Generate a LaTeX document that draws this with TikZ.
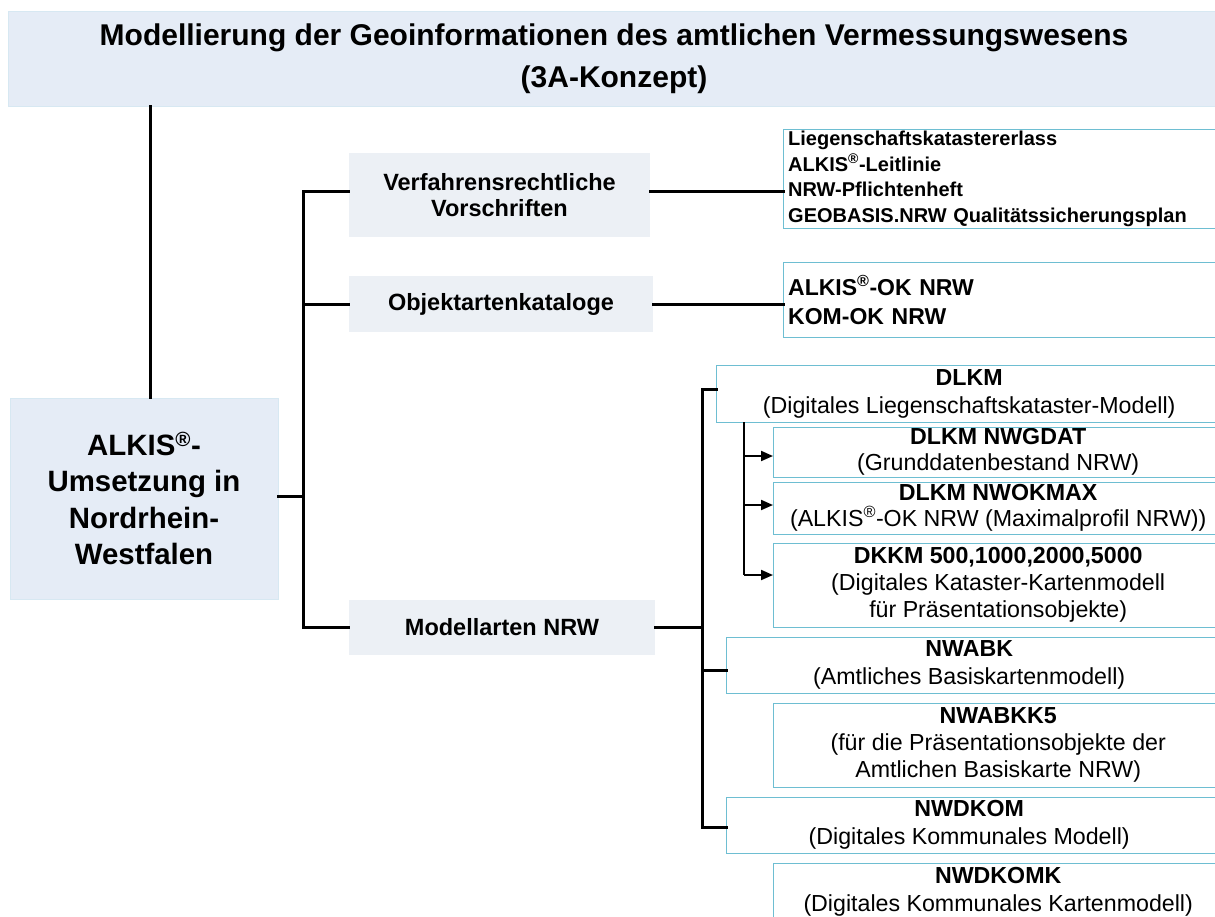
\documentclass[tikz,border=0pt]{standalone}
\usepackage{fontspec}
\setmainfont{Liberation Sans}
\usetikzlibrary{arrows.meta}
\definecolor{titlefill}{RGB}{229,236,246}
\definecolor{midfill}{RGB}{236,240,245}
\definecolor{cyanline}{RGB}{110,190,210}
\definecolor{faintline}{RGB}{215,232,242}
\tikzset{
  px/.style={x=1pt,y=-1pt},
  titlebox/.style={fill=titlefill,inner sep=0pt,align=center,
     font=\fontsize{30}{42}\selectfont\bfseries},
  leftbox/.style={draw=faintline,fill=titlefill,line width=1pt,inner sep=0pt,align=center,
     font=\fontsize{29.4}{36.3}\selectfont\bfseries},
  midbox/.style={fill=midfill,inner sep=0pt,align=center,
     font=\fontsize{23.5}{25.5}\selectfont\bfseries},
  rbox/.style={fill=white,inner sep=0pt,align=center,
     font=\fontsize{23.2}{28}\selectfont},
  listbox/.style={fill=white,inner xsep=5pt,inner ysep=0pt,align=left},
  openborder/.style={draw=cyanline,line width=1pt},
  conn/.style={line width=3pt,line cap=rect},
  thinconn/.style={line width=2pt},
  arr/.style={line width=2pt,-{Triangle[length=12pt,width=10pt]}},
}
\newcommand{\reg}{\textsuperscript{\textregistered}}
\begin{document}
\begin{tikzpicture}[px]
\useasboundingbox (0,0) rectangle (1215,916);
% title
\node[titlebox,minimum width=1210pt,minimum height=94pt] (title) at (614,59)
  {Modellierung der Geoinformationen des amtlichen Vermessungswesens\\(3A-Konzept)};
\draw[draw=faintline,line width=1pt] ([xshift=20pt]title.north east) -- (title.north west)
  -- (title.south west) -- ([xshift=20pt]title.south east);
% left box
\node[leftbox,minimum width=268pt,minimum height=201pt] (alkis) at (144,498.5)
  {ALKIS\reg-\\Umsetzung in\\Nordrhein-\\Westfalen};
% middle boxes
\node[midbox,minimum width=301pt,minimum height=84pt] (verf) at (499.5,195)
  {Verfahrensrechtliche\\Vorschriften};
\node[midbox,minimum width=304pt,minimum height=56pt] (objk) at (501,304) {Objektartenkataloge};
\node[midbox,minimum width=306pt,minimum height=55pt] (mod) at (502,627.5) {Modellarten NRW};
% right list boxes
\node[listbox,font=\fontsize{20}{25.6}\selectfont\bfseries,anchor=north west,
  minimum width=430pt,minimum height=99pt,text width=420pt] (vorschr) at (783,129)
  {Liegenschaftskatastererlass\\ALKIS\reg-Leitlinie\\NRW-Pflichtenheft\\GEOBASIS.NRW Qualitätssicherungsplan};
\node[listbox,font=\fontsize{23}{29}\selectfont\bfseries,anchor=north west,
  minimum width=430pt,minimum height=75pt,text width=420pt] (okat) at (783,262)
  {ALKIS\reg-OK NRW\\KOM-OK NRW};
% model boxes
\node[rbox,anchor=north west,minimum width=506pt,minimum height=57pt] (dlkm) at (716,365)
  {\textbf{DLKM}\\(Digitales Liegenschaftskataster-Modell)};
\node[rbox,anchor=north west,minimum width=450pt,minimum height=50pt,
  font=\fontsize{23.2}{26}\selectfont] (gdat) at (773,427)
  {\textbf{DLKM NWGDAT}\\(Grunddatenbestand NRW)};
\node[rbox,anchor=north west,minimum width=450pt,minimum height=52pt,
  font=\fontsize{23.2}{26}\selectfont] (okmax) at (773,482)
  {\textbf{DLKM NWOKMAX}\\(ALKIS\reg-OK NRW (Maximalprofil NRW))};
\node[rbox,anchor=north west,minimum width=450pt,minimum height=84pt,
  font=\fontsize{23.2}{27}\selectfont] (dkkm) at (773,543)
  {\textbf{DKKM 500,1000,2000,5000}\\(Digitales Kataster-Kartenmodell\\für Präsentationsobjekte)};
\node[rbox,anchor=north west,minimum width=486pt,minimum height=56pt] (abk) at (726,637)
  {\textbf{NWABK}\\(Amtliches Basiskartenmodell)};
\node[rbox,anchor=north west,minimum width=450pt,minimum height=84pt,
  font=\fontsize{23.2}{27}\selectfont] (abkk) at (773,703)
  {\textbf{NWABKK5}\\(für die Präsentationsobjekte der\\Amtlichen Basiskarte NRW)};
\node[rbox,anchor=north west,minimum width=486pt,minimum height=56pt] (dkom) at (726,797)
  {\textbf{NWDKOM}\\(Digitales Kommunales Modell)};
\node[rbox,anchor=north west,minimum width=450pt,minimum height=57pt] (dkomk) at (773,863)
  {\textbf{NWDKOMK}\\(Digitales Kommunales Kartenmodell)};
% open borders (the right edges run past the picture)
\foreach \n in {vorschr,okat,dlkm,gdat,okmax,dkkm,abk,abkk,dkom,dkomk}
  \draw[openborder] ([xshift=40pt]\n.north east) -- (\n.north west) -- (\n.south west)
    -- ([xshift=40pt]\n.south east);
% coordinates
\coordinate (trunk) at (303,0);
\coordinate (mtrunk) at (702,0);
\coordinate (atrunk) at (744,0);
% connectors
\draw[conn] (title.south -| 150,0) -- (alkis.north -| 150,0);
\draw[conn] (alkis.east |- 0,496) -- (trunk |- 0,496);
\draw[conn] (trunk |- verf.west) ++(0,-4) coordinate (v1) -- (trunk |- mod.west) -- (mod.west);
\draw[conn] (v1) -- (verf.west |- v1);
\draw[conn] (trunk |- objk.west) -- (objk.west);
\draw[conn] (verf.east |- v1) -- (vorschr.west |- v1);
\draw[conn] (objk.east) -- (okat.west |- objk.east);
\draw[conn] (mod.east) -- (mtrunk |- mod.east);
\draw[conn] (dlkm.west |- 0,389) -- (mtrunk |- 0,389) -- (mtrunk |- 0,827) -- (dkom.west |- 0,827);
\draw[conn] (mtrunk |- 0,670) -- (abk.west |- 0,670);
\draw[thinconn] (atrunk |- dlkm.south) -- (atrunk |- 0,575);
\draw[arr] (atrunk |- 0,456) -- (gdat.west |- 0,456);
\draw[arr] (atrunk |- 0,505) -- (okmax.west |- 0,505);
\draw[arr] (atrunk |- 0,575) -- (dkkm.west |- 0,575);
\end{tikzpicture}
\end{document}
